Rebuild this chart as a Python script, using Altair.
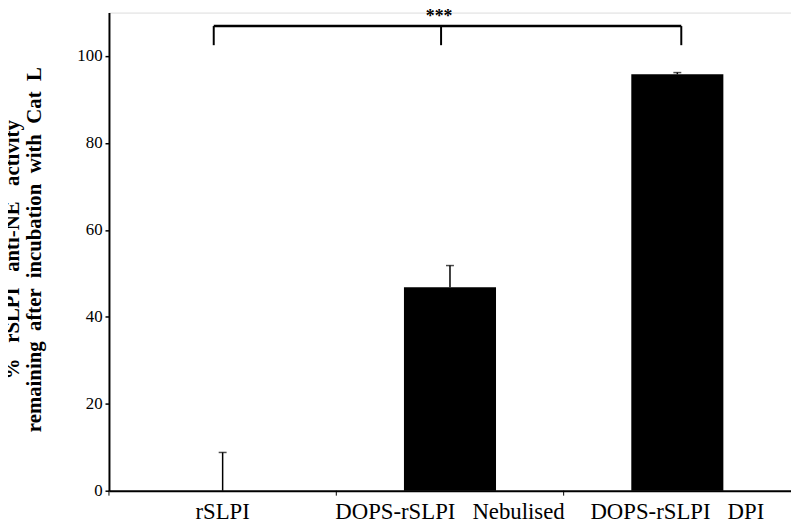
import altair as alt
import pandas as pd

categories = ["rSLPI", "DOPS-rSLPI \u00a0\u00a0Nebulised", "DOPS-rSLPI \u00a0\u00a0DPI"]
means = [0.0, 46.8, 95.8]
upper = [8.8, 51.8, 96.2]

y_ticks = [0, 20, 40, 60, 80, 100]
y_title = [" \u00a0\u00a0".join(["%", "rSLPI", "anti-NE", "activity"]),
           " \u00a0".join(["remaining", "after", "incubation", "with", "Cat", "L"])]

bracket_y = 106.9
bracket_tick_bottom = 102.5
star_y = 107.8
star_label = "***"

df = pd.DataFrame({"cat": categories, "mean": means, "upper": upper})
bracket = pd.DataFrame({"x1": [categories[0]], "x2": [categories[2]], "y": [bracket_y]})
ticks_left = pd.DataFrame({"cat": categories[:2], "y": [bracket_y] * 2, "y2": [bracket_tick_bottom] * 2})
ticks_right = pd.DataFrame({"cat": categories[2:], "y": [bracket_y], "y2": [bracket_tick_bottom]})
stars = pd.DataFrame({"cat": [categories[1]], "y": [star_y], "t": [star_label]})

SERIF = "Liberation Serif"
xs = alt.X("cat:N", sort=categories)
yscale = alt.Scale(domain=[0, 110], nice=False)

bars = alt.Chart(df).mark_bar(size=93, color="black").encode(
    x=alt.X("cat:N", sort=categories,
            scale=alt.Scale(domain=categories, paddingInner=0, paddingOuter=0),
            axis=alt.Axis(title=None, labelAngle=0, ticks=False, domainColor="black",
                          domainWidth=2, labelFont=SERIF, labelFontSize=23,
                          labelColor="black", labelPadding=10, labelLimit=0)),
    y=alt.Y("mean:Q", scale=yscale,
            axis=alt.Axis(values=y_ticks, title=y_title, grid=False, domainColor="black",
                          domainWidth=2, tickColor="black", tickSize=4, tickWidth=1.5,
                          labelFont=SERIF, labelFontSize=17, labelColor="black",
                          labelPadding=3, titleFont=SERIF, titleFontSize=21,
                          titleFontWeight="bold", titleColor="black", titleLineHeight=22,
                          titleAngle=-90, titleX=-97, titleY=239, titleAlign="center",
                          titleBaseline="middle")),
)

xticks = alt.Chart(df).mark_rule(color="black", strokeWidth=1).encode(
    x=alt.X("cat:N", sort=categories, bandPosition=0),
    y=alt.value(483), y2=alt.value(488),
)

err = alt.Chart(df).mark_rule(color="black", strokeWidth=1.5).encode(
    x=xs, y="mean:Q", y2="upper:Q")
caps = alt.Chart(df).mark_tick(color="black", size=8, thickness=1.5).encode(
    x=xs, y="upper:Q")

br = alt.Chart(bracket).mark_rule(color="black", strokeWidth=2.5, xOffset=-9, x2Offset=4).encode(
    x=alt.X("x1:N", sort=categories), x2="x2:N", y="y:Q")
bl = alt.Chart(ticks_left).mark_rule(color="black", strokeWidth=2, xOffset=-9).encode(
    x=xs, y="y:Q", y2="y2:Q")
brr = alt.Chart(ticks_right).mark_rule(color="black", strokeWidth=2, xOffset=4).encode(
    x=xs, y="y:Q", y2="y2:Q")
st = alt.Chart(stars).mark_text(font=SERIF, fontSize=18, fontWeight="bold", color="black",
                                baseline="alphabetic", dx=-11).encode(
    x=xs, y="y:Q", text="t:N")

chart = alt.layer(bars, xticks, err, caps, br, bl, brr, st).properties(
    width=689, height=483,
    autosize=alt.AutoSizeParams(type="none"),
    padding={"left": 102, "top": 2, "right": 0, "bottom": 31},
).configure_view(stroke=None).configure(background="white")

chart.save("out.html", embed_options={"renderer": "svg", "actions": False})
